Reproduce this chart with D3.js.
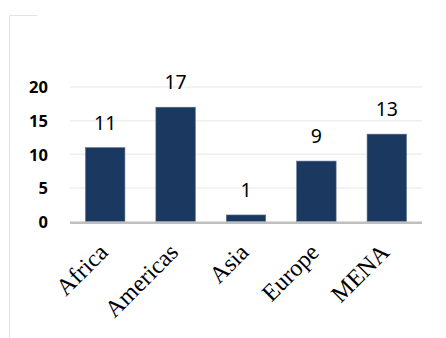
<!DOCTYPE html>
<html>
<head>
<meta charset="utf-8">
<script src="https://cdn.jsdelivr.net/npm/d3@7"></script>
<style>
  html, body { margin: 0; padding: 0; background: #fff; }
  svg { display: block; }
</style>
</head>
<body>
<div id="chart"></div>
<script>
// ---- Data -------------------------------------------------------------------
const regions = ["Africa", "Americas", "Asia", "Europe", "MENA"];
const counts = [11, 17, 1, 9, 13];
const yTicks = [0, 5, 10, 15, 20];

// ---- Layout -----------------------------------------------------------------
const width = 446, height = 338;
const plotLeft = 70, plotRight = 422, plotTop = 87, plotBottom = 221.7;

const svg = d3.select("#chart").append("svg")
  .attr("width", width)
  .attr("height", height);

// partial frame (left + short top piece)
svg.append("path")
  .attr("d", `M9.5,${height} V15.5 H37`)
  .attr("fill", "none")
  .attr("stroke", "#e2e2e2")
  .attr("stroke-width", 1);

const x = d3.scaleBand()
  .domain(regions)
  .range([plotLeft, plotRight])
  .paddingInner(0.44)
  .paddingOuter(0.22);

const y = d3.scaleLinear()
  .domain([0, 20])
  .range([plotBottom, plotTop]);

// gridlines
svg.append("g")
  .selectAll("line")
  .data(yTicks.filter(d => d > 0))
  .join("line")
  .attr("x1", plotLeft).attr("x2", plotRight)
  .attr("y1", d => y(d)).attr("y2", d => y(d))
  .attr("stroke", "#efefef")
  .attr("stroke-width", 1.5);

// y tick labels
const yAxis = d3.axisLeft(y).tickValues(yTicks).tickSize(0).tickPadding(0);
const gy = svg.append("g")
  .attr("transform", `translate(48,0)`)
  .call(yAxis);
gy.select(".domain").remove();
gy.selectAll("text")
  .attr("font-family", "'Noto Sans', sans-serif")
  .attr("font-weight", "bold")
  .attr("font-size", 16.5)
  .attr("fill", "#000")
  .attr("dy", "0.36em");

// bars
svg.append("g")
  .selectAll("rect")
  .data(regions)
  .join("rect")
  .attr("x", d => x(d))
  .attr("y", (d, i) => y(counts[i]))
  .attr("width", x.bandwidth())
  .attr("height", (d, i) => y(0) - y(counts[i]))
  .attr("fill", "#1a3860")
  .attr("stroke", "#5a7090")
  .attr("stroke-width", 0.6);

// value labels
svg.append("g")
  .selectAll("text")
  .data(regions)
  .join("text")
  .attr("x", d => x(d) + x.bandwidth() / 2)
  .attr("y", (d, i) => y(counts[i]) - 18)
  .attr("text-anchor", "middle")
  .attr("font-family", "'Noto Sans', sans-serif")
  .attr("font-size", 19.5)
  .attr("fill", "#000")
  .text((d, i) => counts[i]);

// baseline
svg.append("line")
  .attr("x1", plotLeft).attr("x2", plotRight)
  .attr("y1", y(0) + 1).attr("y2", y(0) + 1)
  .attr("stroke", "#bfbfbf")
  .attr("stroke-width", 2.5);

// x labels, rotated
const xAxis = d3.axisBottom(x).tickSize(0).tickPadding(0);
const gx = svg.append("g")
  .attr("transform", `translate(0,${y(0)})`)
  .call(xAxis);
gx.select(".domain").remove();
gx.selectAll("text")
  .attr("font-family", "'Liberation Serif', 'Times New Roman', serif")
  .attr("font-size", 24)
  .attr("fill", "#000")
  .attr("text-anchor", "end")
  .attr("dy", 0)
  .attr("y", 0)
  .attr("transform", "translate(4,32) rotate(-45)");
</script>
</body>
</html>
